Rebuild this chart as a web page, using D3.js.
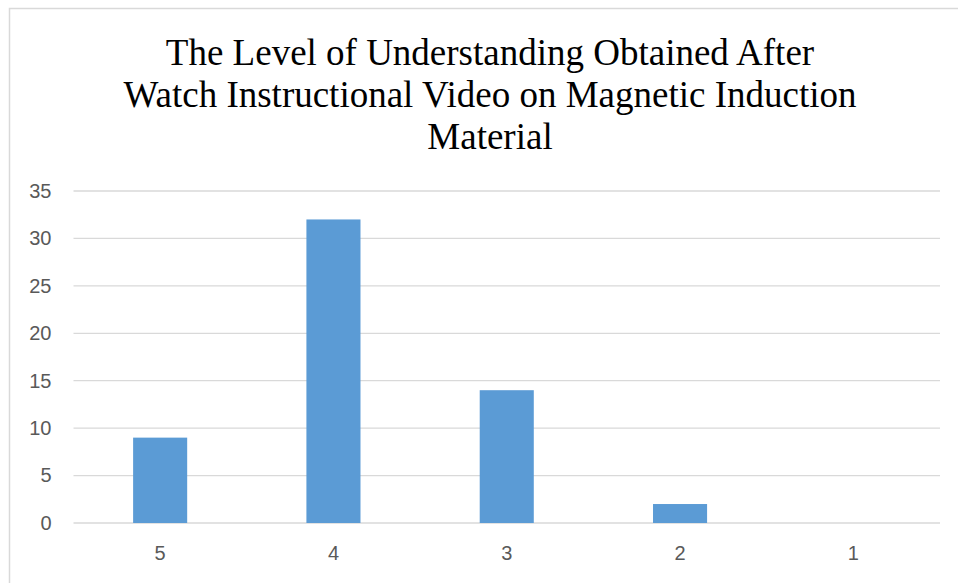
<!DOCTYPE html>
<html>
<head>
<meta charset="utf-8">
<script src="https://cdn.jsdelivr.net/npm/d3@7"></script>
<style>
  body { margin: 0; background: #fff; }
  svg { display: block; }
</style>
</head>
<body>
<svg id="chart" width="958" height="583"></svg>
<script>
const titleLines = [
  'The Level of Understanding Obtained After',
  'Watch Instructional Video on Magnetic Induction',
  'Material'
];
const categories = ['5', '4', '3', '2', '1'];
const counts = [9, 32, 14, 2, 0];
const yTicks = [0, 5, 10, 15, 20, 25, 30, 35];

const svg = d3.select('#chart');
const plot = { left: 73.5, right: 940, top: 191, bottom: 523 };

// chart frame (cut off at right and bottom)
svg.append('rect')
  .attr('x', 9.5).attr('y', 8.5)
  .attr('width', 980).attr('height', 600)
  .attr('fill', 'none')
  .attr('stroke', '#d9d9d9')
  .attr('stroke-width', 1.5);

// title
svg.append('g')
  .selectAll('text')
  .data(titleLines)
  .enter().append('text')
  .attr('x', 490)
  .attr('y', (d, i) => 64.5 + i * 42.4)
  .attr('text-anchor', 'middle')
  .attr('font-family', '"Liberation Serif", "Times New Roman", serif')
  .attr('font-size', 37)
  .attr('fill', '#000')
  .text(d => d);

const x = d3.scaleBand()
  .domain(categories)
  .range([plot.left, plot.right])
  .paddingInner(0.688)
  .paddingOuter(0.344);

const y = d3.scaleLinear()
  .domain([0, 35])
  .range([plot.bottom, plot.top]);

// gridlines
svg.append('g')
  .selectAll('line')
  .data(yTicks)
  .enter().append('line')
  .attr('x1', plot.left).attr('x2', plot.right)
  .attr('y1', d => y(d)).attr('y2', d => y(d))
  .attr('stroke', '#d9d9d9')
  .attr('stroke-width', 1.3);

// y axis labels
const yAxis = d3.axisLeft(y).tickValues(yTicks).tickSize(0).tickPadding(0);
const gy = svg.append('g')
  .attr('transform', `translate(${plot.left - 22},0)`)
  .call(yAxis);
gy.select('.domain').remove();
gy.selectAll('text')
  .attr('font-family', '"Liberation Sans", Arial, sans-serif')
  .attr('font-size', 20)
  .attr('fill', '#595959');

// bars
svg.append('g')
  .selectAll('rect')
  .data(categories.map((c, i) => ({ c, v: counts[i] })))
  .enter().append('rect')
  .attr('x', d => x(d.c))
  .attr('width', x.bandwidth())
  .attr('y', d => y(d.v))
  .attr('height', d => y(0) - y(d.v))
  .attr('fill', '#5b9bd5');

// x axis labels
const xAxis = d3.axisBottom(x).tickSize(0).tickPadding(0);
const gx = svg.append('g')
  .attr('transform', `translate(0,${plot.bottom + 23})`)
  .call(xAxis);
gx.select('.domain').remove();
gx.selectAll('text')
  .attr('font-family', '"Liberation Sans", Arial, sans-serif')
  .attr('font-size', 20)
  .attr('fill', '#595959')
  .attr('dy', '0.71em');
</script>
</body>
</html>
